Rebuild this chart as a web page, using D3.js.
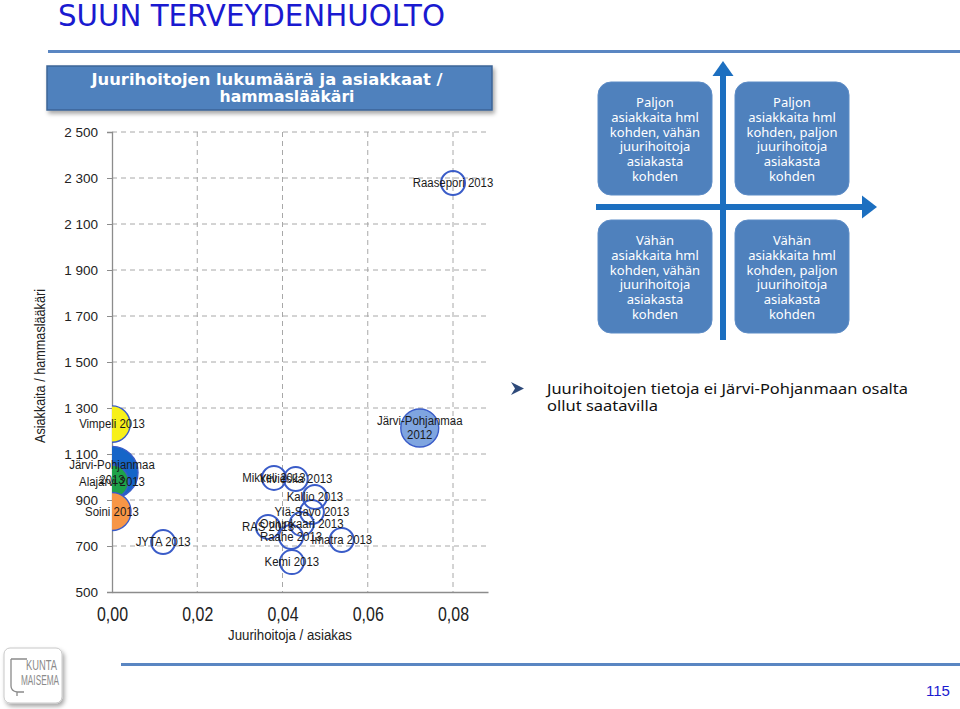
<!DOCTYPE html>
<html><head><meta charset="utf-8">
<script src="https://cdn.jsdelivr.net/npm/d3@7"></script>
<style>
html,body{margin:0;padding:0;background:#fff;}
svg{display:block;}
</style></head>
<body>
<svg id="c" width="960" height="709"></svg>
<script>
// ---------- data ----------
const names = ["Vimpeli 2013","Järvi-Pohjanmaa 2013","Alajärvi 2013","Soini 2013","JYTA 2013",
  "Mikkeli 2013","Ylivieska 2013","Kallio 2013","Ylä-Savo 2013","Oulunkaari 2013","RAS 2013",
  "Raahe 2013","Imatra 2013","Kemi 2013","Raasepori 2013","Järvi-Pohjanmaa 2012"];
const juurihoitojaPerAsiakas = [0, 0, 0, 0, 0.0120,
  0.0380, 0.0431, 0.0476, 0.0469, 0.0445, 0.0366,
  0.0420, 0.0539, 0.0422, 0.0800, 0.0722];
const asiakkaitaPerHml = [1230, 1020, 980, 850, 717,
  996, 991, 913, 848, 796, 783,
  739, 726, 630, 2278, 1213];
const bubbleSize = [2.3, 4.7, 1.9, 2.5, 1,
  1, 1, 1, 1, 1, 1,
  1, 1, 1, 1, 2.5];
const xTicks = [0, 0.02, 0.04, 0.06, 0.08];
const yTicks = [500, 700, 900, 1100, 1300, 1500, 1700, 1900, 2100, 2300, 2500];
const pageTitle = "SUUN TERVEYDENHUOLTO";
const chartTitle = ["Juurihoitojen lukumäärä ja asiakkaat /", "hammaslääkäri"];
const xTitle = "Juurihoitoja / asiakas";
const yTitle = "Asiakkaita / hammaslääkäri";
const quadrants = [
  ["Paljon","asiakkaita hml","kohden, vähän","juurihoitoja","asiakasta","kohden"],
  ["Paljon","asiakkaita hml","kohden, paljon","juurihoitoja","asiakasta","kohden"],
  ["Vähän","asiakkaita hml","kohden, vähän","juurihoitoja","asiakasta","kohden"],
  ["Vähän","asiakkaita hml","kohden, paljon","juurihoitoja","asiakasta","kohden"]
];
const note = ["Juurihoitojen tietoja ei Järvi-Pohjanmaan osalta", "ollut saatavilla"];
const pageNumber = "115";

// ---------- styles ----------
const fillColors = {
  "Vimpeli 2013":"#f7f01a",
  "Järvi-Pohjanmaa 2013":"#1565c8",
  "Alajärvi 2013":"#1ea24a",
  "Soini 2013":"#f79646",
  "Järvi-Pohjanmaa 2012":"#7fa5e0"
};
const boxBlue = "#4f81bd";
const arrowBlue = "#1c6fc0";

const svg = d3.select("#c");
const defs = svg.append("defs");
const sh = defs.append("filter").attr("id","sh").attr("x","-10%").attr("y","-10%").attr("width","130%").attr("height","140%");
sh.append("feDropShadow").attr("dx",2).attr("dy",3).attr("stdDeviation",2).attr("flood-color","#000").attr("flood-opacity",0.35);

// page title
svg.append("text").attr("x",58).attr("y",26).text(pageTitle)
  .attr("font-family","DejaVu Sans").attr("font-size",30).attr("fill","#1a1ad0")
  .attr("textLength",387).attr("lengthAdjust","spacingAndGlyphs");
svg.append("line").attr("x1",48).attr("x2",960).attr("y1",51.5).attr("y2",51.5)
  .attr("stroke","#5a86c2").attr("stroke-width",3);

// ---------- chart ----------
const L = 112, R = 488, T = 132, B = 592;
const x = d3.scaleLinear().domain([0, (R-L)/(453-112)*0.08]).range([L, R]);
const y = d3.scaleLinear().domain([500, 2500]).range([B, T]);
const r = d3.scaleSqrt().domain([0, 1]).range([0, 12]);

const loc = d3.formatLocale({decimal:",", thousands:"\u00a0", grouping:[3], currency:["","€"]});
const fx = loc.format(".2f"), fy = loc.format(",d");

const g = svg.append("g");
// gridlines
g.selectAll(".hg").data(yTicks.filter(d=>d>500)).join("line")
  .attr("x1",L).attr("x2",R).attr("y1",d=>y(d)).attr("y2",d=>y(d))
  .attr("stroke","#a8a8a8").attr("stroke-width",1).attr("stroke-dasharray","5,4");
g.selectAll(".vg").data(xTicks.filter(d=>d>0)).join("line")
  .attr("x1",d=>x(d)).attr("x2",d=>x(d)).attr("y1",T).attr("y2",B)
  .attr("stroke","#a8a8a8").attr("stroke-width",1).attr("stroke-dasharray","5,4");

// axes
const ya = svg.append("g").attr("transform",`translate(${L},0)`)
  .call(d3.axisLeft(y).tickValues(yTicks).tickFormat(fy).tickSize(5).tickPadding(9));
ya.select(".domain").attr("stroke","#8c8c8c").attr("stroke-width",1.3);
ya.selectAll(".tick line").attr("stroke","#8c8c8c");
ya.selectAll("text").attr("font-family","Liberation Sans, Arial").attr("font-size",13.5).attr("fill","#222");

const xa = svg.append("g").attr("transform",`translate(0,${B})`)
  .call(d3.axisBottom(x).tickValues(xTicks).tickFormat(fx).tickSize(0).tickPadding(15));
xa.select(".domain").attr("stroke","#8c8c8c").attr("stroke-width",1.3);
xa.selectAll("text").attr("font-family","Liberation Sans, Arial").attr("font-size",20).attr("fill","#222")
  .attr("textLength",31).attr("lengthAdjust","spacingAndGlyphs");

svg.append("text").attr("x",290).attr("y",640).attr("text-anchor","middle").text(xTitle)
  .attr("font-family","Liberation Sans, Arial").attr("font-size",15.5).attr("fill","#222")
  .attr("textLength",124).attr("lengthAdjust","spacingAndGlyphs");
svg.append("text").attr("transform","translate(45,366) rotate(-90)").attr("text-anchor","middle").text(yTitle)
  .attr("font-family","Liberation Sans, Arial").attr("font-size",15.5).attr("fill","#222")
  .attr("textLength",154).attr("lengthAdjust","spacingAndGlyphs");

// bubbles
defs.append("clipPath").attr("id","plot").append("rect").attr("x",L).attr("y",T-40).attr("width",R-L+10).attr("height",B-T+40);
const pts = names.map((n,i)=>({n, x:juurihoitojaPerAsiakas[i], y:asiakkaitaPerHml[i], s:bubbleSize[i]}));
svg.append("g").attr("clip-path","url(#plot)").selectAll("circle").data(pts).join("circle")
  .attr("cx",d=>x(d.x)).attr("cy",d=>y(d.y)).attr("r",d=>r(d.s))
  .attr("fill",d=>fillColors[d.n]||"none")
  .attr("stroke","#3a5cc8").attr("stroke-width",d=>fillColors[d.n]?1.4:2);

const lab = svg.append("g").attr("font-family","Liberation Sans, Arial").attr("font-size",12).attr("fill","#1a1a1a").attr("text-anchor","middle");
pts.forEach(d=>{
  const lines = d.n.startsWith("Järvi-Pohjanmaa") ? ["Järvi-Pohjanmaa", d.n.split(" ")[1]] : [d.n];
  const cx = x(d.x), cy = y(d.y);
  lines.forEach((t,k)=>{
    const el = lab.append("text").attr("x",cx).attr("y",cy + (k-(lines.length-1)/2)*14.5 + 4.2).text(t);
    el.attr("textLength", el.node().getComputedTextLength()*0.95).attr("lengthAdjust","spacingAndGlyphs");
  });
});

// chart title box
svg.append("rect").attr("x",47).attr("y",66).attr("width",445).attr("height",44)
  .attr("fill",boxBlue).attr("stroke","#3d6597").attr("stroke-width",1.5).attr("filter","url(#sh)");
svg.append("text").attr("x",267).attr("y",84.5).attr("text-anchor","middle").text(chartTitle[0])
  .attr("font-family","DejaVu Sans").attr("font-weight","bold").attr("font-size",16.5).attr("fill","#fff")
  .attr("textLength",351).attr("lengthAdjust","spacingAndGlyphs");
svg.append("text").attr("x",287).attr("y",102).attr("text-anchor","middle").text(chartTitle[1])
  .attr("font-family","DejaVu Sans").attr("font-weight","bold").attr("font-size",16.5).attr("fill","#fff")
  .attr("textLength",135).attr("lengthAdjust","spacingAndGlyphs");

// ---------- quadrant diagram ----------
const qBoxes = [[598,82],[735,82],[598,220],[735,220]];
const qw = 114, qh = 113;
quadrants.forEach((lines,i)=>{
  const [bx,by] = qBoxes[i];
  svg.append("rect").attr("x",bx).attr("y",by).attr("width",qw).attr("height",qh).attr("rx",13)
    .attr("fill",boxBlue).attr("stroke","#5d8cc6").attr("stroke-width",1);
  lines.forEach((t,k)=>{
    svg.append("text").attr("x",bx+qw/2).attr("y",by+25+k*14.8).attr("text-anchor","middle").text(t)
      .attr("font-family","Noto Sans, DejaVu Sans").attr("font-size",13).attr("fill","#fff");
  });
});
// arrows
svg.append("rect").attr("x",720).attr("y",74).attr("width",6).attr("height",266).attr("fill",arrowBlue);
svg.append("path").attr("d","M723,61 L733.5,76 L712.5,76 Z").attr("fill",arrowBlue);
svg.append("rect").attr("x",596).attr("y",204).attr("width",268).attr("height",6).attr("fill",arrowBlue);
svg.append("path").attr("d","M877,207 L862,195.5 L862,218.5 Z").attr("fill",arrowBlue);

// note with bullet
svg.append("path").attr("d","M511,382 L524,388.5 L511,395 L515,388.5 Z").attr("fill","#2e4a7a");
note.forEach((t,k)=>{
  svg.append("text").attr("x",547).attr("y",394+k*17).text(t)
    .attr("font-family","Noto Sans, DejaVu Sans").attr("font-size",15).attr("fill","#111")
    .attr("textLength",k===0?361:111).attr("lengthAdjust","spacingAndGlyphs");
});

// ---------- footer ----------
svg.append("line").attr("x1",121).attr("x2",960).attr("y1",664.5).attr("y2",664.5)
  .attr("stroke","#5a86c2").attr("stroke-width",3);
svg.append("text").attr("x",950).attr("y",696).attr("text-anchor","end").text(pageNumber)
  .attr("font-family","Liberation Sans, Arial").attr("font-size",15).attr("fill","#1a1ad0")
  .attr("textLength",24).attr("lengthAdjust","spacingAndGlyphs");
// logo
svg.append("rect").attr("x",4).attr("y",648).attr("width",58).attr("height",55).attr("rx",6)
  .attr("fill","#fff").attr("stroke","#c8c8c8").attr("stroke-width",1).attr("filter","url(#sh)");
svg.append("path").attr("d","M11,659 L27,659 M11,659 L11,686 Q11,691 17,692 L17,696 M17,692 L24,692")
  .attr("fill","none").attr("stroke","#8a8a8a").attr("stroke-width",1.3);
svg.append("text").attr("x",26).attr("y",670).text("KUNTA")
  .attr("font-family","Liberation Sans, Arial").attr("font-size",15).attr("fill","#8a8a8a")
  .attr("textLength",31).attr("lengthAdjust","spacingAndGlyphs");
svg.append("text").attr("x",21).attr("y",685).text("MAISEMA")
  .attr("font-family","Liberation Sans, Arial").attr("font-size",15).attr("fill","#8a8a8a")
  .attr("textLength",38).attr("lengthAdjust","spacingAndGlyphs");
</script>
</body></html>
